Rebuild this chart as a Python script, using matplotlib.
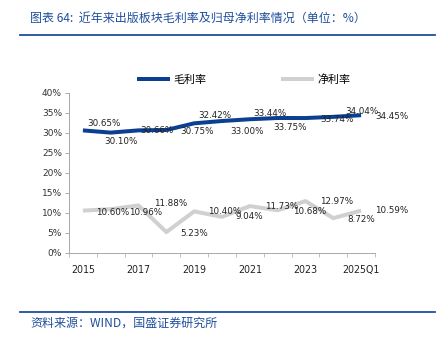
import matplotlib
matplotlib.use("Agg")
import matplotlib.pyplot as plt
from matplotlib.lines import Line2D

plt.rcParams['font.family'] = ['DejaVu Sans', 'Noto Sans CJK SC']

years = ["2015", "2016", "2017", "2018", "2019", "2020", "2021", "2022", "2023", "2024", "2025Q1"]
gross = [30.65, 30.10, 30.66, 30.75, 32.42, 33.00, 33.44, 33.75, 33.74, 34.04, 34.45]
net = [10.60, 10.96, 11.88, 5.23, 10.40, 9.04, 11.73, 10.68, 12.97, 8.72, 10.59]

# label offsets in pixels (dx, dy) relative to each point, as laid out in the source chart
gross_off = [(4, 7), (-6, -9), (2, 0), (14, -1), (4, 8), (8, -10), (3, 6), (-4, -9), (15, -1), (12, 5), (14, -1)]
net_off = [(13, -2), (18, -3), (15, 2), (14, -1), (14, 0), (14, 0), (15, 0), (15, -1), (15, 0), (14, -1), (14, 0)]

blue = "#0a3f92"
grey = "#d0d0d0"

fig = plt.figure(figsize=(443 / 72, 339 / 72), dpi=72)
ax = fig.add_axes([69 / 443, 86 / 339, 306 / 443, 160 / 339])

x = list(range(len(years)))
ax.plot(x, gross, color=blue, lw=4, solid_capstyle='butt', label="毛利率")
ax.plot(x, net, color=grey, lw=4, solid_capstyle='butt', label="净利率")

for i in x:
    ax.annotate(f"{gross[i]:.2f}%", (i, gross[i]), xytext=gross_off[i], textcoords='offset points',
                ha='left', va='center', fontsize=8.7, color='#222222')
    ax.annotate(f"{net[i]:.2f}%", (i, net[i]), xytext=net_off[i], textcoords='offset points',
                ha='left', va='center', fontsize=8.7, color='#222222')

ax.set_xlim(-0.5, len(years) - 0.5)
ax.set_ylim(0, 40)
ax.set_yticks(range(0, 41, 5))
ax.set_yticklabels([f"{v}%" for v in range(0, 41, 5)], fontsize=9, color='#333333')
ax.set_xticks(x[::2])
ax.set_xticklabels(years[::2], fontsize=9.5, color='#222222')
ax.set_xticks([i - 0.5 for i in range(len(years) + 1)], minor=True)
ax.tick_params(axis='x', which='major', length=0, pad=12)
ax.tick_params(axis='x', which='minor', length=4, color='#999999', direction='out')
ax.tick_params(axis='y', length=4, color='#999999', direction='out', pad=3)

for s in ['top', 'right']:
    ax.spines[s].set_visible(False)
for s in ['left', 'bottom']:
    ax.spines[s].set_color('#aaaaaa')
    ax.spines[s].set_linewidth(1)

fig.legend(loc='center', bbox_to_anchor=(244 / 443, 1 - 80 / 339), ncol=2, frameon=False,
           handlelength=3.0, handletextpad=0.3, columnspacing=6.8,
           prop={'family': ['Noto Sans CJK SC'], 'size': 11})

fig.text(30 / 443, 1 - 18 / 339, "图表 64:  近年来出版板块毛利率及归母净利率情况（单位：%）",
         fontsize=12, color='#1f4e9c', style='italic', va='center',
         family=['Noto Sans CJK SC', 'DejaVu Sans'])
fig.add_artist(Line2D([20 / 443, 435 / 443], [1 - 35 / 339, 1 - 35 / 339], color='#1f4e9c', lw=1.8))
fig.add_artist(Line2D([20 / 443, 435 / 443], [1 - 312 / 339, 1 - 312 / 339], color='#1f4e9c', lw=1.8))
fig.text(30 / 443, 1 - 323 / 339, "资料来源：WIND，国盛证券研究所", fontsize=12, color='#1f4e9c',
         style='italic', va='center', family=['Noto Sans CJK SC', 'DejaVu Sans'])

fig.savefig("out.png", dpi=72)
